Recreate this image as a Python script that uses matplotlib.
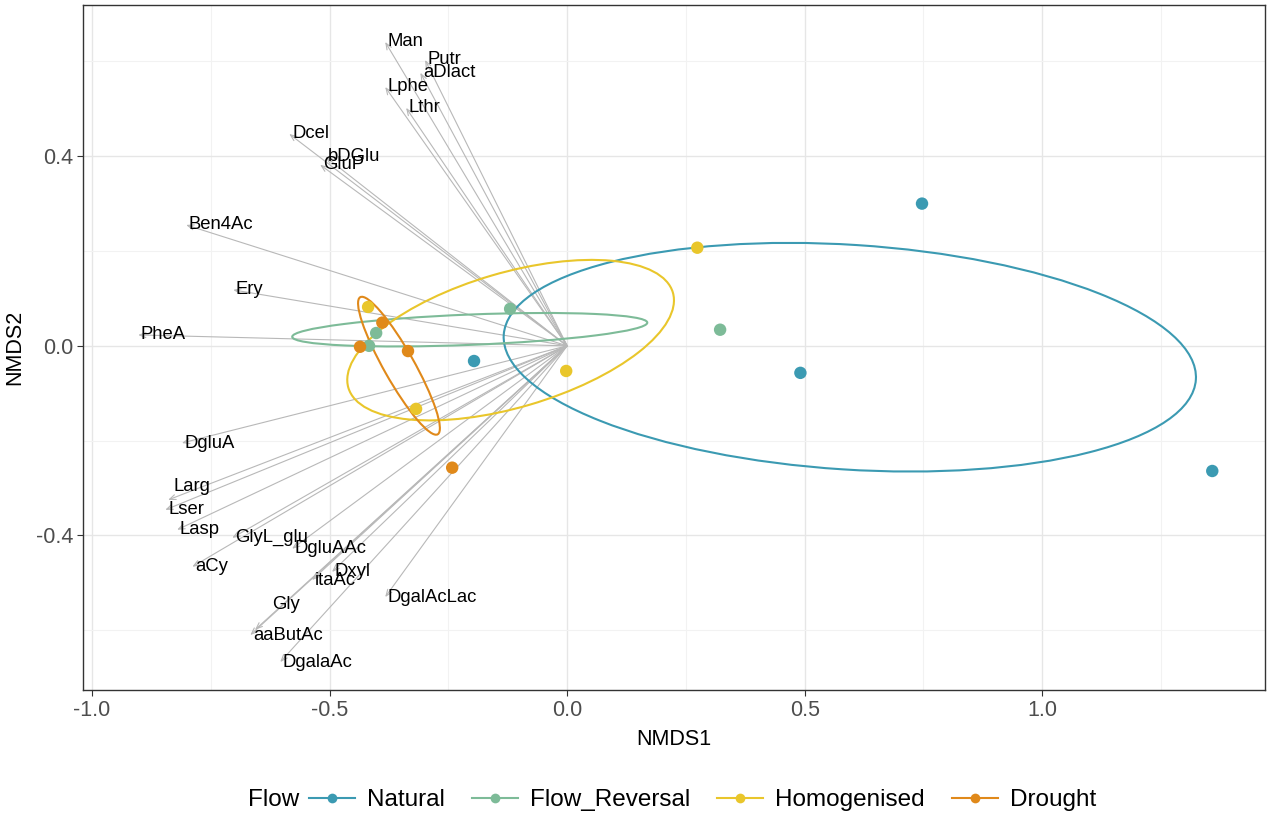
import matplotlib
matplotlib.use("Agg")
import matplotlib.pyplot as plt
from matplotlib.patches import Ellipse
from matplotlib.lines import Line2D
import numpy as np

plt.rcParams["font.family"] = ["Liberation Sans", "DejaVu Sans"]
plt.rcParams["axes.unicode_minus"] = False

# site scores per flow treatment
groups = ["Natural", "Flow_Reversal", "Homogenised", "Drought"]
colours = ["#3B9AB2", "#7DBB98", "#E9C62B", "#E0891A"]
nat_x = [-0.196, 0.491, 0.747, 1.358]
nat_y = [-0.032, -0.057, 0.300, -0.264]
rev_x = [-0.402, -0.417, -0.120, 0.322]
rev_y = [0.027, 0.000, 0.078, 0.034]
hom_x = [-0.419, -0.318, -0.002, 0.274]
hom_y = [0.082, -0.133, -0.053, 0.207]
dro_x = [-0.389, -0.436, -0.335, -0.242]
dro_y = [0.049, -0.002, -0.011, -0.257]

# ellipses: centre, semi axes, angle (deg)
ell_cx = [0.595, -0.205, -0.119, -0.354]
ell_cy = [-0.024, 0.034, 0.012, -0.042]
ell_a = [0.730, 0.374, 0.356, 0.166]
ell_b = [0.237, 0.032, 0.142, 0.032]
ell_ang = [-3.7, 2.3, 16.4, -60.6]

# fitted substrate vectors
vec_names = ["Man", "Putr", "aDlact", "Lphe", "Lthr", "Dcel", "bDGlu", "GluP",
             "Ben4Ac", "Ery", "PheA", "DgluA", "Larg", "Lser", "Lasp", "aCy",
             "GlyL_glu", "DgluAAc", "Dxyl", "itaAc", "Gly", "aaButAc",
             "DgalaAc", "DgalAcLac"]
vec_x = [-0.383, -0.299, -0.309, -0.383, -0.339, -0.585, -0.509, -0.520,
         -0.802, -0.703, -0.903, -0.811, -0.840, -0.846, -0.821, -0.789,
         -0.705, -0.579, -0.495, -0.537, -0.657, -0.667, -0.604, -0.383]
vec_y = [0.641, 0.603, 0.576, 0.546, 0.502, 0.447, 0.399, 0.382,
         0.255, 0.118, 0.023, -0.205, -0.325, -0.346, -0.388, -0.466,
         -0.405, -0.428, -0.477, -0.494, -0.599, -0.610, -0.667, -0.530]

# labels moved off their arrow tip (points)
nudge = {"Larg": (4, 10), "Gly": (12, 18)}

series = [(nat_x, nat_y), (rev_x, rev_y), (hom_x, hom_y), (dro_x, dro_y)]

fig = plt.figure(figsize=(12.72, 8.16), dpi=100)
ax = fig.add_axes([0.0653, 0.1544, 0.9292, 0.8395])

for n, x, y in zip(vec_names, vec_x, vec_y):
    ax.annotate("", xy=(x, y), xytext=(0, 0),
                arrowprops=dict(arrowstyle="->,head_length=0.45,head_width=0.18",
                                color="#B8B8B8", lw=0.8, shrinkA=0, shrinkB=0),
                zorder=2)
    dx, dy = nudge.get(n, (2, 0))
    ax.annotate(n, xy=(x, y), xytext=(dx, dy), textcoords="offset points",
                ha="left", va="center", fontsize=13.3, color="black", zorder=5)

for i, (x, y) in enumerate(series):
    ax.add_patch(Ellipse((ell_cx[i], ell_cy[i]), 2 * ell_a[i], 2 * ell_b[i],
                         angle=ell_ang[i], fill=False, edgecolor=colours[i],
                         lw=1.5, zorder=3))
    ax.scatter(x, y, s=80, color=colours[i], edgecolors="none", zorder=4)

ax.set_xlim(-1.019, 1.469)
ax.set_ylim(-0.726, 0.719)
ax.set_xticks([-1.0, -0.5, 0.0, 0.5, 1.0])
ax.set_yticks([-0.4, 0.0, 0.4])
ax.set_xticks([-0.75, -0.25, 0.25, 0.75, 1.25], minor=True)
ax.set_yticks([-0.6, -0.2, 0.2, 0.6], minor=True)
ax.grid(True, which="major", color="#E6E6E6", lw=1.0, zorder=0)
ax.grid(True, which="minor", color="#F2F2F2", lw=0.8, zorder=0)
ax.set_axisbelow(True)
ax.tick_params(which="major", length=4, color="#333333", labelsize=15.5,
               labelcolor="#4D4D4D", pad=3)
ax.tick_params(which="minor", length=0)
for s in ax.spines.values():
    s.set_color("#333333")
    s.set_linewidth(1.0)
ax.set_xlabel("NMDS1", fontsize=15.5, labelpad=6)
ax.set_ylabel("NMDS2", fontsize=15.5, labelpad=8)

# legend along the bottom, title to the left of the keys
handles = [Line2D([], [], color=c, lw=1.5, marker="o", markersize=7,
                  markeredgewidth=0) for c in colours]
leg = fig.legend(handles, groups, loc="center left", bbox_to_anchor=(0.3, 0.02),
                 ncol=4, frameon=False, fontsize=17.5, handlelength=1.9,
                 columnspacing=1.1, handletextpad=0.5, borderaxespad=0,
                 borderpad=0)
title = fig.text(0, 0, "Flow", fontsize=17.5, ha="left", va="center")
fig.canvas.draw()
r = fig.canvas.get_renderer()
lb = leg.get_window_extent(r)
tb = title.get_window_extent(r)
W, H = fig.bbox.width, fig.bbox.height
gap = 10
total = tb.width + gap + lb.width
x0 = 672 - total / 2
yc = (H - 800) / H
title.set_position((x0 / W, yc))
leg.set_bbox_to_anchor(((x0 + tb.width + gap) / W, yc), transform=fig.transFigure)

fig.savefig("out.png", dpi=100)
